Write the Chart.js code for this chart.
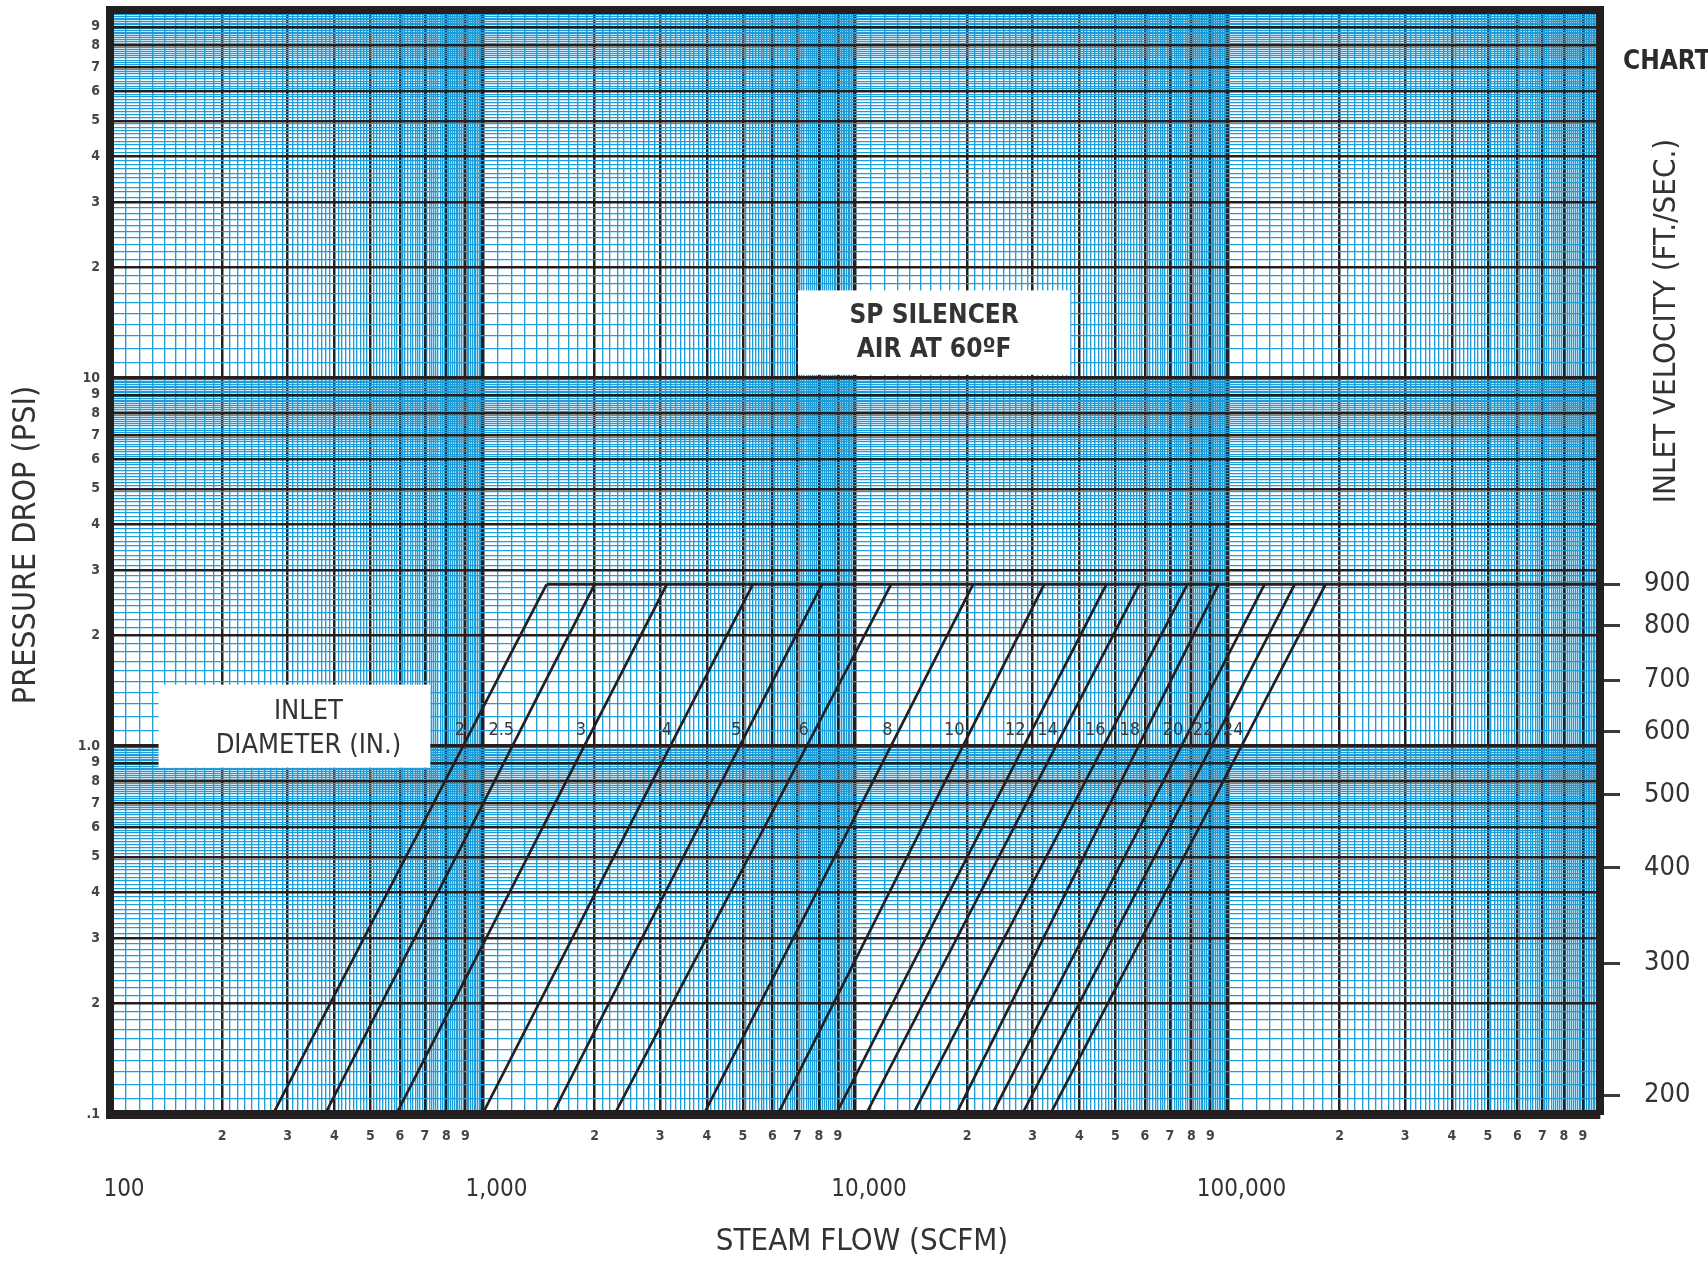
<!DOCTYPE html>
<html>
<head>
<meta charset="utf-8">
<title>SP Silencer - pressure drop</title>
<script src="https://cdn.jsdelivr.net/npm/chart.js@4.4.1/dist/chart.umd.min.js"></script>
<style>
  html, body { margin: 0; padding: 0; background: #fff; }
  #wrap { width: 1708px; height: 1262px; }
</style>
</head>
<body>
<div id="wrap"><canvas id="chart" width="1708" height="1262"></canvas></div>
<script>
// inlet diameter (in.) of each silencer curve
var diameters = ["2", "2.5", "3", "4", "5", "6", "8", "10", "12", "14", "16", "18", "20", "22", "24"];
// steam flow (SCFM) where each curve leaves the 0.1 psi line
var flowAtMinDrop = [274, 378, 587, 1000, 1542, 2264, 3929, 6209, 8892, 10710, 14320, 18700, 23350, 28120, 33440];
// steam flow (SCFM) where each curve hits the 900 ft/s cap line
var flowAtCap = [1486, 2000, 3124, 5318, 8150, 12500, 20750, 32200, 47300, 58000, 78000, 94600, 125700, 151400, 183300];
var minDrop = 0.1;
var capDrop = 2.75;
var capFlowEnd = 1000000;

// right hand scale: inlet velocity and the pressure drop it sits at
var velocityTicks = [200, 300, 400, 500, 600, 700, 800, 900];
var velocityAtDrop = [0.1126, 0.257, 0.467, 0.737, 1.094, 1.51, 2.12, 2.75];

var flowDecades = [100, 1000, 10000, 100000];
var flowDecadeLabels = ["100", "1,000", "10,000", "100,000"];
var labelDrop = 1.1; // psi level of the diameter numbers

var NARROW = '"Liberation Sans Narrow", "Arial Narrow", "DejaVu Sans Condensed", "Liberation Sans", sans-serif';
var BLUE = "#1f9dd8";
var BLACK = "#231f20";
var TEXT = "#333333";

// log paper: 9 fine lines between each whole number, black lines on whole numbers
function paperTicks(min, max) {
    var minor = [], major = [];
    for (var d = min; d < max * 0.999; d *= 10) {
        for (var k = 10; k < 100; k++) {
            var v = parseFloat((d * k / 10).toPrecision(6));
            if (k % 10 === 0) major.push(v); else minor.push(v);
        }
    }
    major.push(max);
    // whole numbers last so the black lines sit on top of the blue ones
    return minor.concat(major).map(function (v) { return { value: v }; });
}

function mantissa(v) {
    var e = Math.floor(Math.log10(v) + 1e-9);
    return v / Math.pow(10, e);
}
function isWhole(v) {
    var m = mantissa(v);
    return Math.abs(m - Math.round(m)) < 1e-6;
}

function gridColor(ctx) {
    var v = ctx.tick ? ctx.tick.value : 0;
    return isWhole(v) ? BLACK : BLUE;
}
function gridWidth(min, max) {
    return function (ctx) {
        var v = ctx.tick ? ctx.tick.value : 0;
        if (Math.abs(v - min) < 1e-9 || Math.abs(v - max) < 1e-6) return 8;
        if (!isWhole(v)) return 1.35;
        return Math.round(mantissa(v)) === 1 ? 3.5 : 2.5;
    };
}

function xLabel(v) {
    if (!isWhole(v)) return "";
    var k = Math.round(mantissa(v));
    return k === 1 ? "" : String(k);
}
function yLabel(v) {
    if (!isWhole(v)) return "";
    var k = Math.round(mantissa(v));
    if (k !== 1) return String(k);
    if (Math.abs(v - 10) < 1e-9) return "10";
    if (Math.abs(v - 1) < 1e-9) return "1.0";
    if (Math.abs(v - 0.1) < 1e-9) return ".1";
    return "";
}

// datasets: one straight line per diameter plus the 900 ft/s cap line
var datasets = diameters.map(function (d, i) {
    return {
        label: d + " in.",
        data: [{ x: flowAtMinDrop[i], y: minDrop }, { x: flowAtCap[i], y: capDrop }],
        borderColor: BLACK,
        borderWidth: 2.7,
        pointRadius: 0,
        tension: 0
    };
});
datasets.push({
    label: "900 ft/s",
    data: [{ x: flowAtCap[0], y: capDrop }, { x: capFlowEnd, y: capDrop }],
    borderColor: BLACK,
    borderWidth: 3,
    pointRadius: 0,
    tension: 0
});

// white note boxes, given in chart units
var notes = [
    { x0: 7030, x1: 37850, y0: 10.2, y1: 17.3, lines: ["SP SILENCER", "AIR AT 60\u00BAF"], bold: true },
    { x0: 135, x1: 724, y0: 0.873, y1: 1.468, lines: ["INLET", "DIAMETER (IN.)"], bold: false }
];

function rotatedText(c, text, x, y, font) {
    c.save();
    c.translate(x, y);
    c.rotate(-Math.PI / 2);
    c.font = font;
    c.fillText(text, 0, 0);
    c.restore();
}

var paperText = {
    id: "paperText",
    beforeDatasetsDraw: function (chart) {
        var c = chart.ctx, xs = chart.scales.x, ys = chart.scales.y;
        c.save();
        notes.forEach(function (n) {
            var l = xs.getPixelForValue(n.x0), r = xs.getPixelForValue(n.x1);
            var t = ys.getPixelForValue(n.y1), b = ys.getPixelForValue(n.y0);
            c.fillStyle = "#ffffff";
            c.fillRect(l, t, r - l, b - t);
            c.fillStyle = TEXT;
            c.textAlign = "center";
            c.textBaseline = "middle";
            c.font = (n.bold ? "bold 26px " : "27px ") + NARROW;
            var cx = (l + r) / 2 + (n.bold ? 0 : 14), cy = (t + b) / 2 + (n.bold ? 1 : 3);
            c.fillText(n.lines[0], cx, cy - 17);
            c.fillText(n.lines[1], cx, cy + 17);
        });
        c.restore();
    },
    afterDatasetsDraw: function (chart) {
        var c = chart.ctx, xs = chart.scales.x, ys = chart.scales.y;
        c.save();
        // diameter numbers just left of each line
        c.font = "18px " + NARROW;
        c.fillStyle = "#3a3a3a";
        c.textAlign = "right";
        c.textBaseline = "middle";
        var t = (Math.log10(labelDrop) - Math.log10(minDrop)) / (Math.log10(capDrop) - Math.log10(minDrop));
        diameters.forEach(function (d, i) {
            var lx = Math.log10(flowAtMinDrop[i]) + t * (Math.log10(flowAtCap[i]) - Math.log10(flowAtMinDrop[i]));
            var px = xs.getPixelForValue(Math.pow(10, lx));
            var py = ys.getPixelForValue(labelDrop);
            c.fillText(d, px - 6, py);
        });
        c.restore();
    },
    afterDraw: function (chart) {
        var c = chart.ctx, xs = chart.scales.x, area = chart.chartArea;
        c.save();
        c.fillStyle = TEXT;
        c.textAlign = "center";
        c.textBaseline = "middle";
        c.font = "24px " + NARROW;
        flowDecades.forEach(function (v, i) {
            c.fillText(flowDecadeLabels[i], xs.getPixelForValue(v) + 14, area.bottom + 76);
        });
        c.font = "31px " + NARROW;
        c.fillText("STEAM FLOW (SCFM)", 862, area.bottom + 128);
        rotatedText(c, "PRESSURE DROP (PSI)", 27, 545, "32px " + NARROW);
        rotatedText(c, "INLET VELOCITY (FT./SEC.)", area.right + 67, 321, "31px " + NARROW);
        c.fillStyle = "#2b2b2b";
        c.font = "bold 26px " + NARROW;
        c.textAlign = "left";
        c.fillText("CHART", area.right + 23, 62);
        c.restore();
    }
};

function fixedWidth(w) {
    return function (s) { s.width = w; s.paddingTop = 0; s.paddingBottom = 0; };
}

var ctx = document.getElementById("chart").getContext("2d");
new Chart(ctx, {
    type: "line",
    data: { datasets: datasets },
    plugins: [paperText],
    options: {
        responsive: false,
        animation: false,
        layout: { padding: { top: 10, left: 0, right: 0, bottom: 0 } },
        plugins: { legend: { display: false }, tooltip: { enabled: false } },
        scales: {
            x: {
                type: "logarithmic",
                position: "bottom",
                min: 100,
                max: 1000000,
                afterBuildTicks: function (s) { s.ticks = paperTicks(100, 1000000); },
                afterFit: function (s) { s.height = 148; s.paddingLeft = 0; s.paddingRight = 0; },
                grid: { color: gridColor, lineWidth: gridWidth(100, 1000000), drawTicks: false },
                border: { display: true, color: BLACK, width: 9 },
                ticks: {
                    autoSkip: false, maxRotation: 0, minRotation: 0, padding: 14,
                    color: "#454545", font: { family: NARROW, size: 14, weight: "bold" },
                    callback: function (v) { return xLabel(v); }
                }
            },
            y: {
                type: "logarithmic",
                position: "left",
                min: 0.1,
                max: 100,
                afterBuildTicks: function (s) { s.ticks = paperTicks(0.1, 100); },
                afterFit: fixedWidth(110),
                grid: { color: gridColor, lineWidth: gridWidth(0.1, 100), drawTicks: false },
                border: { display: true, color: BLACK, width: 8 },
                ticks: {
                    autoSkip: false, padding: 10,
                    color: "#454545", font: { family: NARROW, size: 14, weight: "bold" },
                    callback: function (v) { return yLabel(v); }
                }
            },
            yv: {
                type: "logarithmic",
                position: "right",
                min: 0.1,
                max: 100,
                afterBuildTicks: function (s) {
                    s.ticks = velocityAtDrop.map(function (v) { return { value: v }; });
                },
                afterFit: fixedWidth(108),
                grid: { drawOnChartArea: false, drawTicks: true, tickLength: 20, tickWidth: 3, tickColor: "#3a3a3a" },
                border: { display: true, color: BLACK, width: 8 },
                ticks: {
                    autoSkip: false, padding: 24,
                    color: TEXT, font: { family: NARROW, size: 27 },
                    callback: function (v, i) { return String(velocityTicks[i]); }
                }
            }
        }
    }
});
</script>
</body>
</html>
